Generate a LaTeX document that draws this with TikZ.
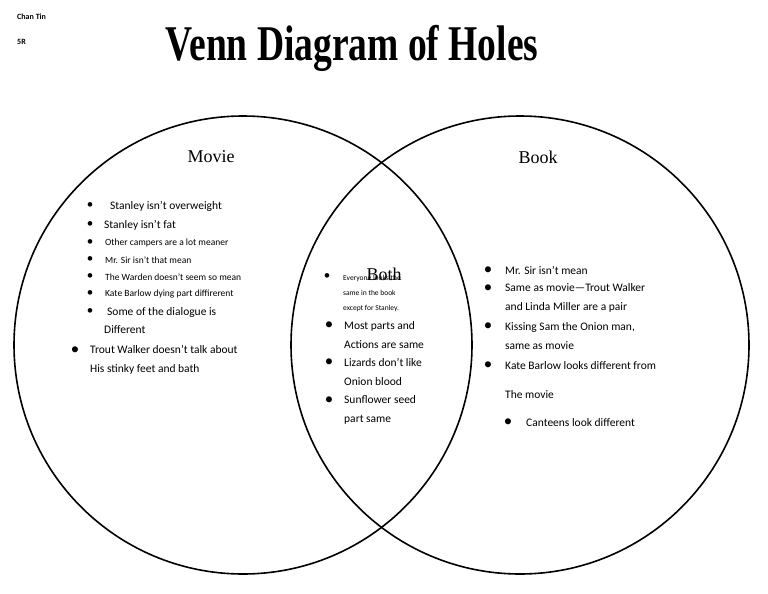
\documentclass[tikz,border=0pt]{standalone}
\usepackage{fontspec}
\setmainfont{Carlito}
\newfontfamily\serifface{Liberation Serif}
\usetikzlibrary{positioning}

\begin{document}
\begin{tikzpicture}[x=1pt, y=-1pt,
    circ/.style={draw, line width=1.6pt},
    heading/.style={font=\serifface\fontsize{18}{20}\selectfont},
    item/.style={anchor=west, inner sep=0pt, align=left, font=\fontsize{11.5}{19}\selectfont},
    smallitem/.style={anchor=west, inner sep=0pt, align=left, font=\fontsize{9.5}{19}\selectfont},
    dot/.style={anchor=center, inner sep=0pt, font=\fontsize{13}{13}\selectfont}
]
    \useasboundingbox (0,0) rectangle (768,594);

    % Name and class
    \node[anchor=west, inner sep=0pt, font=\bfseries\fontsize{8}{8}\selectfont] (name) at (17,17) {Chan Tin};
    \node[anchor=west, inner sep=0pt, font=\bfseries\fontsize{8}{8}\selectfont] (class) at (17,42) {5R};

    % Title
    \node[font=\serifface\bfseries\fontsize{50}{50}\selectfont, xscale=0.75] (title) at (352,48) {Venn Diagram of Holes};

    % Circles
    \node[circ, circle, minimum size=458pt] (movie) at (243,345) {};
    \node[circ, circle, minimum size=458pt] (book) at (520,345) {};

    % Headings
    \node[heading] (movielbl) at (211,157) {Movie};
    \node[heading] (booklbl) at (538,157) {Book};
    \node[heading] (bothlbl) at (384,274) {Both};

    % Movie items
    \node[dot] at (90,206) {•};
    \node[item] (m1) at (110,206) {Stanley isn’t overweight};
    \node[dot] at (90,225) {•};
    \node[item] (m2) at (104,225) {Stanley isn’t fat};
    \node[dot] at (90,243) {•};
    \node[smallitem] (m3) at (105,243) {Other campers are a lot meaner};
    \node[dot] at (90,260) {•};
    \node[smallitem] (m4) at (105,260) {Mr. Sir isn’t that mean};
    \node[dot] at (90,277) {•};
    \node[smallitem] (m5) at (105,277) {The Warden doesn’t seem so mean};
    \node[dot] at (90,294) {•};
    \node[smallitem] (m6) at (105,294) {Kate Barlow dying part diffirerent};
    \node[dot] at (90,312) {•};
    \node[item] (m7) at (107,312) {Some of the dialogue is};
    \node[item] (m7b) at (104,330) {Different};
    \node[dot] at (75,350) {●};
    \node[item] (m8) at (90,359.5) {Trout Walker doesn’t talk about\\His stinky feet and bath};

    % Both items
    \node[dot] at (327,277) {•};
    \node[smallitem, font=\fontsize{7.5}{15}\selectfont] (b1) at (343,293) {Everyone looks the\\same in the book\\except for Stanley.};
    \node[dot] at (329,325) {●};
    \node[item] (b2) at (344,335) {Most parts and\\Actions are same};
    \node[dot] at (329,362) {●};
    \node[item] (b3) at (344,372) {Lizards don’t like\\Onion blood};
    \node[dot] at (329,400) {●};
    \node[item] (b4) at (344,410) {Sunflower seed\\part same};

    % Book items
    \node[dot] at (488,270) {●};
    \node[item] (k1) at (505,270) {Mr. Sir isn’t mean};
    \node[dot] at (488,288) {●};
    \node[item] (k2) at (505,298) {Same as movie—Trout Walker\\and Linda Miller are a pair};
    \node[dot] at (488,326) {●};
    \node[item] (k3) at (505,336) {Kissing Sam the Onion man,\\same as movie};
    \node[dot] at (488,365) {●};
    \node[item] (k4) at (505,366) {Kate Barlow looks different from};
    \node[item] (k4b) at (505,395) {The movie};
    \node[dot] at (508,422) {●};
    \node[item] (k5) at (526,423) {Canteens look different};
\end{tikzpicture}
\end{document}
